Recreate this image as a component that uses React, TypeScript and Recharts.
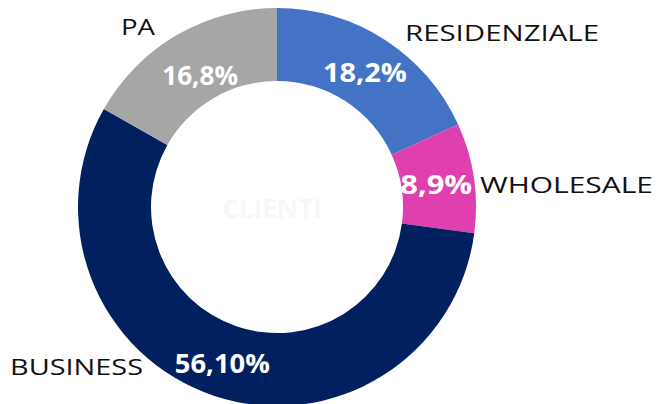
import { PieChart, Pie, Cell } from 'recharts';

const segments = ['RESIDENZIALE', 'WHOLESALE', 'BUSINESS', 'PA'];
const shares = [18.2, 8.9, 56.1, 16.8];
const shareLabels = ['18,2%', '8,9%', '56,10%', '16,8%'];
const colors = ['#4472C4', '#E03FAF', '#002060', '#A6A6A6'];

// layout of the labels (relative to pie centre), not data
const namePos: Record<string, { dx: number; dy: number; anchor: 'start' | 'middle' | 'end'; w: number }> = {
  RESIDENZIALE: { dx: 128, dy: -175, anchor: 'start', w: 194 },
  WHOLESALE: { dx: 203, dy: -23, anchor: 'start', w: 173 },
  BUSINESS: { dx: -134, dy: 159, anchor: 'end', w: 133 },
  PA: { dx: -139, dy: -181, anchor: 'middle', w: 34 },
};
const pctNudge: Record<string, { dx: number; dy: number; w: number }> = {
  RESIDENZIALE: { dx: 0, dy: 1, w: 84 },
  WHOLESALE: { dx: -1.5, dy: 0, w: 72 },
  BUSINESS: { dx: -3, dy: 1, w: 95 },
  PA: { dx: 5, dy: 8, w: 76 },
};

const data = segments.map((name, i) => ({ name, value: shares[i], label: shareLabels[i], color: colors[i] }));

const FONT = '"Open Sans", "DejaVu Sans", sans-serif';
const RAD = Math.PI / 180;

function renderLabel(props: any) {
  const { cx, cy, midAngle, innerRadius, outerRadius, index } = props;
  const entry = data[index];
  const r = (innerRadius + outerRadius) / 2;
  const nudge = pctNudge[entry.name];
  const x = cx + r * Math.cos(-midAngle * RAD) + nudge.dx;
  const y = cy + r * Math.sin(-midAngle * RAD) + nudge.dy;
  const pos = namePos[entry.name];
  return (
    <g>
      <text x={x} y={y} fill="#fff" fontFamily={FONT} fontWeight={700} fontSize={27}
        textAnchor="middle" dominantBaseline="central"
        textLength={nudge.w} lengthAdjust="spacingAndGlyphs">
        {entry.label}
      </text>
      <text x={cx + pos.dx} y={cy + pos.dy} fill="#111" fontFamily={FONT} fontSize={22}
        textAnchor={pos.anchor} dominantBaseline="central"
        textLength={pos.w} lengthAdjust="spacingAndGlyphs">
        {entry.name}
      </text>
    </g>
  );
}

export default function App() {
  return (
    <div style={{ position: 'absolute', left: 0, top: 0, width: 659, height: 404, background: '#fff' }}>
      <PieChart width={659} height={404}>
        <text x={272} y={208} textAnchor="middle" dominantBaseline="central" fill="#f7f7f7"
          fontFamily={FONT} fontWeight={700} fontSize={26}>
          CLIENTI
        </text>
        <Pie
          data={data}
          dataKey="value"
          nameKey="name"
          cx={272}
          cy={202}
          innerRadius={126}
          outerRadius={199}
          startAngle={90}
          endAngle={-270}
          stroke="none"
          labelLine={false}
          label={renderLabel}
          isAnimationActive={false}
        >
          {data.map((entry, index) => (
            <Cell key={`cell-${index}`} fill={entry.color} />
          ))}
        </Pie>
      </PieChart>
    </div>
  );
}
